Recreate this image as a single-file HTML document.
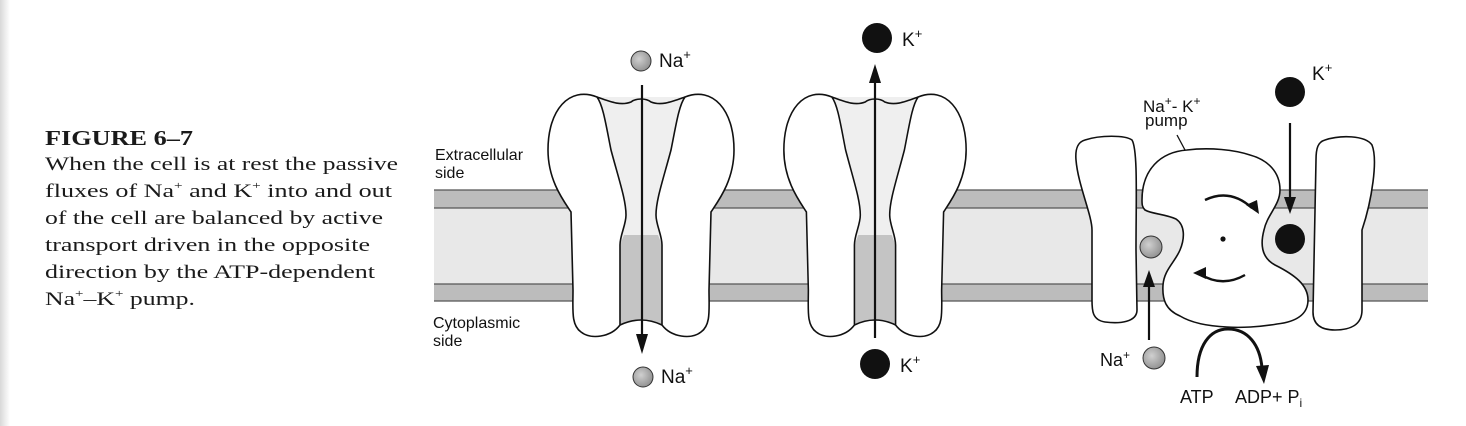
<!DOCTYPE html>
<html><head><meta charset="utf-8"><style>
html,body{margin:0;padding:0;background:#fff;}
body{width:1466px;height:426px;overflow:hidden;position:relative;}
svg{position:absolute;left:0;top:0;}
</style></head><body>
<svg width="1466" height="426" viewBox="0 0 1466 426" xmlns="http://www.w3.org/2000/svg">
<defs>
<linearGradient id="edge" x1="0" x2="1" y1="0" y2="0">
<stop offset="0" stop-color="#d8d8d8"/><stop offset="1" stop-color="#ffffff"/></linearGradient>
<radialGradient id="na" cx="0.4" cy="0.4" r="0.7"><stop offset="0" stop-color="#d0d0d0"/><stop offset="1" stop-color="#8a8a8a"/></radialGradient>
<g id="chan">
  <path d="M-44,97 C-44,150 -30,200 -21,240 L-21,325 Q0,315 21,325 L21,240 C30,200 44,150 44,97 Z" fill="#efefef"/>
  <path d="M-17,235 L-21,245 L-21,325 Q0,315 21,325 L21,245 L17,235 Z" fill="#c4c4c4"/>
  <path d="M-44,97 C-72,86 -93,110 -93,150 C-93,180 -78,200 -70,212 L-68,290 C-68,310 -70,325 -60,332 C-50,340 -30,337 -21,325 L-21,245 C-21,235 -15,225 -15,215 C-15,200 -22,180 -30,150 C-35,125 -38,105 -44,97 Z" fill="#fff" stroke="#111" stroke-width="1.6"/>
  <path d="M44,97 C72,86 93,110 93,150 C93,180 78,200 70,212 L68,290 C68,310 70,325 60,332 C50,340 30,337 21,325 L21,245 C21,235 15,225 15,215 C15,200 22,180 30,150 C35,125 38,105 44,97 Z" fill="#fff" stroke="#111" stroke-width="1.6"/>
  <path d="M-44,97 C-30,102 -20,106 -10,102 C-5,98 5,98 10,102 C20,106 30,102 44,97" fill="none" stroke="#111" stroke-width="1.6"/>
  <path d="M-21,325 Q0,315 21,325" fill="none" stroke="#111" stroke-width="1.6"/>
</g>
</defs>
<rect x="0" y="0" width="10" height="426" fill="url(#edge)"/>

<!-- caption -->
<g font-family="'Liberation Serif',serif" fill="#1a1a1a">
<text x="45" y="145" font-size="21" font-weight="bold" textLength="148" lengthAdjust="spacingAndGlyphs">FIGURE  6–7</text>
<g font-size="19">
<text x="45" y="170" textLength="353" lengthAdjust="spacingAndGlyphs">When the cell is at rest the passive</text>
<text x="45" y="197" textLength="347" lengthAdjust="spacingAndGlyphs">fluxes of Na<tspan font-size="11" dy="-8">+</tspan><tspan dy="8"> and K</tspan><tspan font-size="11" dy="-8">+</tspan><tspan dy="8"> into and out</tspan></text>
<text x="45" y="224" textLength="338" lengthAdjust="spacingAndGlyphs">of the cell are balanced by active</text>
<text x="45" y="251" textLength="325" lengthAdjust="spacingAndGlyphs">transport driven in the opposite</text>
<text x="45" y="278" textLength="330" lengthAdjust="spacingAndGlyphs">direction by the ATP-dependent</text>
<text x="45" y="305" textLength="150" lengthAdjust="spacingAndGlyphs">Na<tspan font-size="11" dy="-8">+</tspan><tspan dy="8">–K</tspan><tspan font-size="11" dy="-8">+</tspan><tspan dy="8"> pump.</tspan></text>
</g></g>

<!-- membrane -->
<rect x="434" y="190" width="994" height="18" fill="#bcbcbc"/>
<rect x="434" y="208" width="994" height="76" fill="#e8e8e8"/>
<rect x="434" y="284" width="994" height="17" fill="#bcbcbc"/>
<g stroke="#555" stroke-width="1.3">
<line x1="434" y1="190" x2="1428" y2="190"/><line x1="434" y1="208" x2="1428" y2="208"/>
<line x1="434" y1="284" x2="1428" y2="284"/><line x1="434" y1="301" x2="1428" y2="301"/>
</g>

<g font-family="'Liberation Sans',sans-serif" font-size="16" fill="#111">
<text x="435" y="160">Extracellular</text><text x="435" y="178">side</text>
<text x="433" y="328">Cytoplasmic</text><text x="433" y="346">side</text>
</g>

<!-- channels -->
<use href="#chan" transform="translate(641,0)"/>
<use href="#chan" transform="translate(875,0) scale(0.98,1)"/>

<!-- arrows -->
<line x1="642" y1="85" x2="642" y2="338" stroke="#111" stroke-width="2.2"/>
<polygon points="636,334 648,334 642,354" fill="#111"/>
<line x1="875" y1="338" x2="875" y2="80" stroke="#111" stroke-width="2.2"/>
<polygon points="869,83 881,83 875,64" fill="#111"/>

<circle cx="641" cy="61" r="10" fill="url(#na)" stroke="#333" stroke-width="1"/>
<circle cx="643" cy="377" r="10" fill="url(#na)" stroke="#333" stroke-width="1"/>
<circle cx="877" cy="38" r="15" fill="#111"/>
<circle cx="875" cy="364" r="15" fill="#111"/>

<g font-family="'Liberation Sans',sans-serif" font-size="19" fill="#111">
<text x="659" y="67">Na<tspan font-size="13" dy="-8">+</tspan></text>
<text x="661" y="383">Na<tspan font-size="13" dy="-8">+</tspan></text>
<text x="902" y="46">K<tspan font-size="13" dy="-8">+</tspan></text>
<text x="900" y="372">K<tspan font-size="13" dy="-8">+</tspan></text>
</g>

<!-- pump blocks -->
<path d="M1085,140 C1100,135 1125,135 1132,140 C1138,150 1136,200 1136,250 L1137,310 C1137,322 1120,324 1105,322 C1092,320 1092,310 1092,300 L1092,230 C1092,215 1078,185 1076,160 C1075,148 1078,142 1085,140 Z" fill="#fff" stroke="#111" stroke-width="1.6"/>
<path d="M1325,140 C1340,135 1365,135 1372,145 C1378,160 1372,200 1362,230 L1362,310 C1362,325 1350,330 1335,330 C1318,330 1313,322 1313,312 L1316,160 C1316,148 1318,142 1325,140 Z" fill="#fff" stroke="#111" stroke-width="1.6"/>

<!-- pump body -->
<path d="M1142,200 C1142,170 1160,152 1187,150 C1210,147 1235,150 1250,155 C1268,160 1280,172 1280,190 C1280,205 1267,215 1264,230 C1260,245 1262,258 1275,265 C1295,275 1308,285 1308,300 C1308,315 1295,322 1277,324 C1260,327 1240,328 1227,327 C1205,326 1190,322 1180,316 C1166,310 1162,300 1163,285 C1164,270 1175,262 1180,250 C1185,238 1185,225 1176,219 C1165,214 1152,214 1145,210 C1142,207 1142,204 1142,200 Z" fill="#fff" stroke="#111" stroke-width="1.6"/>
<path d="M1177,135 L1185,150" stroke="#111" stroke-width="1.3"/>

<!-- rotation arrows -->
<path d="M1205,200 Q1230,188 1252,208" fill="none" stroke="#111" stroke-width="2.4"/>
<polygon points="1246,205 1257,200 1259,214" fill="#111"/>
<path d="M1245,275 Q1222,288 1200,274" fill="none" stroke="#111" stroke-width="2.4"/>
<polygon points="1206,279 1193,273 1206,267" fill="#111"/>
<circle cx="1223" cy="239" r="2.6" fill="#111"/>

<!-- pump ions -->
<circle cx="1290" cy="92" r="15" fill="#111"/>
<line x1="1290" y1="123" x2="1290" y2="200" stroke="#111" stroke-width="2.2"/>
<polygon points="1284,197 1296,197 1290,214" fill="#111"/>
<circle cx="1290" cy="239" r="15" fill="#111"/>
<circle cx="1151" cy="247" r="11" fill="url(#na)" stroke="#333" stroke-width="1"/>
<line x1="1149" y1="340" x2="1149" y2="284" stroke="#111" stroke-width="2.2"/>
<polygon points="1143,287 1155,287 1149,270" fill="#111"/>
<circle cx="1154" cy="358" r="11" fill="url(#na)" stroke="#333" stroke-width="1"/>

<!-- ATP arc -->
<path d="M1197,377 C1197,345 1210,329 1228,329 C1248,329 1260,345 1262,368" fill="none" stroke="#111" stroke-width="3"/>
<polygon points="1256,366 1269,365 1264,384" fill="#111"/>

<g font-family="'Liberation Sans',sans-serif" fill="#111">
<text x="1143" y="112" font-size="17">Na<tspan font-size="12" dy="-7">+</tspan><tspan dy="7">- K</tspan><tspan font-size="12" dy="-7">+</tspan></text>
<text x="1145" y="126" font-size="17">pump</text>
<text x="1312" y="80" font-size="19">K<tspan font-size="13" dy="-8">+</tspan></text>
<text x="1100" y="366" font-size="18">Na<tspan font-size="12" dy="-7">+</tspan></text>
<text x="1180" y="403" font-size="18">ATP</text>
<text x="1235" y="403" font-size="18">ADP+ P<tspan font-size="12" dy="4">i</tspan></text>
</g>
</svg>
</body></html>
